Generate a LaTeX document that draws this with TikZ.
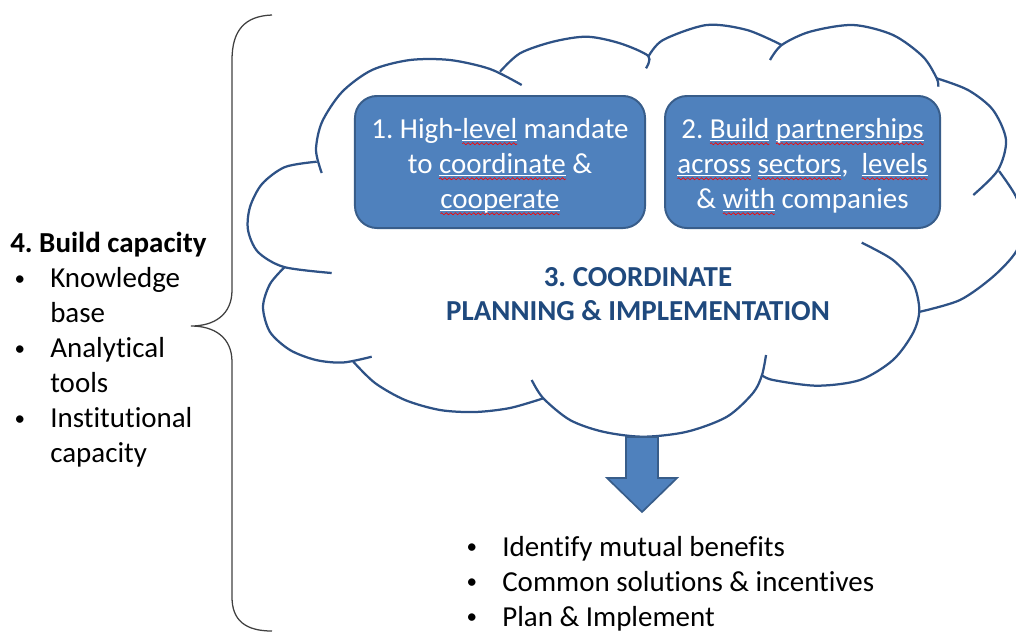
\documentclass[tikz,border=0pt]{standalone}
\usepackage{fontspec}
\setmainfont{Carlito}[Ligatures=NoCommon]
\usepackage{tikz}
\usetikzlibrary{positioning}
\frenchspacing

\definecolor{boxfill}{HTML}{4F81BD}
\definecolor{boxline}{HTML}{385D8A}
\definecolor{cloudcol}{HTML}{2E5286}
\definecolor{titleblue}{HTML}{1F497D}
\definecolor{bracegray}{HTML}{404040}

% spell-checker squiggle under a word
\newsavebox\wordbox
\newcommand\wavebit{\tikz[x=1pt,y=1pt,baseline=0pt]{\path[use as bounding box] (0,0) rectangle (3.2,0);
  \draw[red,line width=0.45pt,sharp corners] (0,0) .. controls (0.6,1) and (1.1,1) .. (1.6,0)
        .. controls (2.1,-1) and (2.6,-1) .. (3.2,0);}}
\newcommand\spell[1]{\sbox\wordbox{#1}%
  \rlap{\textcolor{white}{\rule[-1.6pt]{\wd\wordbox}{0.6pt}}}%
  \rlap{\raisebox{-3.8pt}{\hbox to\wd\wordbox{\xleaders\hbox{\wavebit}\hfil}}}%
  \usebox\wordbox}
% bullet item, 1cm hanging indent
\newcommand\itm{\makebox[1cm][l]{\hspace{0.11cm}\raisebox{1.8pt}{\fontsize{15}{15}\selectfont\textbullet}}}

\begin{document}
\begin{tikzpicture}[x=0.025cm,y=-0.025cm,
    txt/.style={font=\fontsize{20.6}{24.9}\selectfont, inner sep=0pt},
    mandate/.style={txt, rectangle, rounded corners=0.55cm, draw=boxline,
                    line width=1.4pt, fill=boxfill, text=white, align=center,
                    minimum height=3.3cm},
    cloudedge/.style={draw=cloudcol, line width=1.6pt},
    brace/.style={draw=bracegray, line width=0.9pt},
    blockarrow/.style={fill=boxfill, draw=boxline, line width=1.2pt}]
  \useasboundingbox (0,0) rectangle (1016,633);

  % cloud, one bump at a time
  \draw[cloudedge] plot[smooth] coordinates {(521.7,85) (490,69) (450,60) (410,60) (372,70) (342,92) (322,122) (316,150) (321.7,173)};
  \draw[cloudedge] plot[smooth] coordinates {(316.7,161.7) (285,167) (262,184) (250,207) (248,230) (258,252) (284,267) (331.7,273)};
  \draw[cloudedge] plot[smooth] coordinates {(285,266.7) (270,284) (263,307) (270,332) (290,350) (316,360) (343,362.5) (371.7,356.7)};
  \draw[cloudedge] plot[smooth] coordinates {(353.3,361.7) (375,383) (405,400) (440,410) (475,412) (510,408) (543.3,398.3)};
  \draw[cloudedge] plot[smooth] coordinates {(531.7,380) (543.3,398.3) (570,420) (603,431.7) (643,436.7) (687,431.7) (727,416.7) (753,393) (762,375) (766,355)};
  \draw[cloudedge] plot[smooth] coordinates {(761.7,375) (773,380) (817,385.7) (860,380) (893,360) (913,333) (919.3,310) (913,283) (893,260) (861.7,242.7)};
  \draw[cloudedge] plot[smooth] coordinates {(999,171) (1016,196.7) (1024,225) (1016,251.7) (993,276.7) (960,300) (920,311.7)};
  \draw[cloudedge] plot[smooth] coordinates {(936.7,78.3) (968,90) (993,110) (1006,140) (998,170) (973.3,195)};
  \draw[cloudedge] plot[smooth] coordinates {(770,60) (781.7,45) (810,31.7) (853,25) (893,35) (923,56.7) (936.7,78.3) (938.3,86.7)};
  \draw[cloudedge] plot[smooth] coordinates {(648.3,56.7) (663,40) (706.7,25) (747,30) (781.7,45)};
  \draw[cloudedge] plot[smooth] coordinates {(500,71.7) (520,53.3) (553,41.7) (587,36.7) (620,43.3) (648.3,56) (646,68.3)};

  % the two boxes inside the cloud
  \node[mandate, minimum width=7.25cm] (mandate) at (500,162)
       {\rule{0pt}{20pt}1. High-\spell{level} mandate\\ to \spell{coordinate} \&\\ \spell{cooperate}};
  \node[mandate, minimum width=6.875cm] (partners) [right=0.45cm of mandate]
       {\rule{0pt}{20pt}2. \spell{Build} \spell{partnerships}\\ \spell{across} \spell{sectors},\ \ \spell{levels}\\ \& \spell{with} companies};

  \node[txt, align=center, text=titleblue, font=\fontsize{20.6}{24.2}\bfseries] (coord) at (638,294)
       {3. COORDINATE\\ PLANNING \& IMPLEMENTATION};

  % arrow down out of the cloud
  \coordinate (stem) at (642,437);
  \draw[blockarrow] (stem) ++(-16,0) -- ++(32,0) -- ++(0,41) -- ++(19,0)
        -- ++(-35,34) -- ++(-35,-34) -- ++(19,0) -- cycle;

  \node[txt, align=left, anchor=north west] (outcomes) at (462,536)
       {\itm Identify mutual benefits\\ \itm Common solutions \& incentives\\ \itm Plan \& Implement};

  % capacity list and its brace
  \node[txt, align=left, anchor=north west] (capacity) at (10,232)
       {\textbf{4. Build capacity}\\ \itm Knowledge\\ \hspace*{1cm}base\\ \itm Analytical\\
        \hspace*{1cm}tools\\ \itm Institutional\\ \hspace*{1cm}capacity};

  \draw[brace] (272,15) .. controls (245,16) and (232,30) .. (232,60) -- (232,290)
        .. controls (232,315) and (214,326) .. (191,326)
        .. controls (214,326) and (232,337) .. (232,362) -- (232,597)
        .. controls (232,620) and (245,631) .. (272,631);
\end{tikzpicture}
\end{document}
